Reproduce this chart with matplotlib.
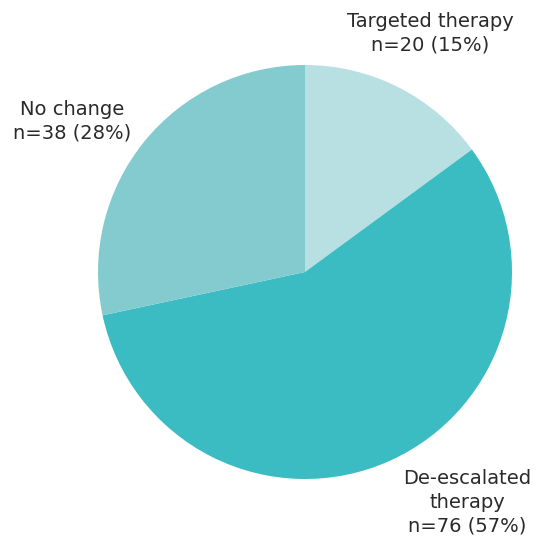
import matplotlib.pyplot as plt

# data
labels = ['Targeted therapy', 'De-escalated therapy', 'No change']
counts = [20, 76, 38]
pcts = [15, 57, 28]
colors = ['#b8e0e2', '#3bbcc2', '#84cbd0']

W, H = 549, 542
cx, cy, r = 305, 272, 207

fig = plt.figure(figsize=(W / 100, H / 100), dpi=100)
ax = fig.add_axes([0, 0, 1, 1])
ax.pie(counts, colors=colors, startangle=90, counterclock=False, radius=1,
       wedgeprops=dict(linewidth=0))
ax.set_xlim(-cx / r, (W - cx) / r)
ax.set_ylim(-(H - cy) / r, cy / r)
ax.set_aspect('equal')
ax.axis('off')


def px(x, y):
    return (x - cx) / r, (cy - y) / r


txt = dict(fontsize=14, color='#2a2a2a', ha='center', va='center',
           linespacing=1.3, family='DejaVu Sans')
ax.text(*px(430, 33), 'Targeted therapy\nn=%d (%d%%)' % (counts[0], pcts[0]), **txt)
ax.text(*px(467, 502), 'De-escalated\ntherapy\nn=%d (%d%%)' % (counts[1], pcts[1]), **txt)
ax.text(*px(72, 121), 'No change\nn=%d (%d%%)' % (counts[2], pcts[2]), **txt)

fig.savefig('out.png', dpi=100)
